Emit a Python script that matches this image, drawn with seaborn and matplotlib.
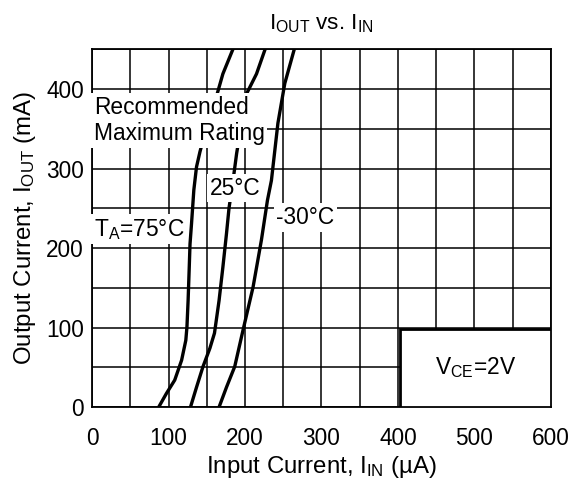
import pandas as pd
import matplotlib
matplotlib.use("Agg")
import matplotlib.pyplot as plt
from matplotlib.patches import Rectangle
import seaborn as sns

# curves (input uA, output mA)
t75_in = [87, 97, 108, 117, 122.5, 124, 125.5, 127, 128, 130, 133, 136.5,
          141, 152, 163, 171, 185]
t75_out = [0, 17, 34, 59, 84, 101, 134, 176, 205, 231, 273, 302,
           321, 360, 392, 419, 452]
t25_in = [128.6, 136.5, 145, 154, 160, 166, 171, 175.7, 179, 185, 189, 196,
          202, 215, 227]
t25_out = [0, 25, 51, 74, 93, 134, 176, 218, 250, 290, 319, 360,
           394, 419, 452]
tm30_in = [166, 175.7, 186.5, 197.4, 210.5, 221.4, 229.3, 234.5, 243, 252, 265]
tm30_out = [0, 25, 51, 97, 151, 210, 260, 285, 357, 407, 452]

x_ticks = [0, 100, 200, 300, 400, 500, 600]
y_ticks = [0, 100, 200, 300, 400]

df = pd.concat([
    pd.DataFrame({"iin": t75_in, "iout": t75_out, "temp": "75"}),
    pd.DataFrame({"iin": t25_in, "iout": t25_out, "temp": "25"}),
    pd.DataFrame({"iin": tm30_in, "iout": tm30_out, "temp": "-30"}),
])

sns.set_style("white")
plt.rcParams["font.family"] = ["Liberation Sans", "DejaVu Sans"]
plt.rcParams["mathtext.default"] = "regular"
for k in ["text.color", "axes.labelcolor", "xtick.color", "ytick.color"]:
    plt.rcParams[k] = "black"

fig = plt.figure(figsize=(5.69, 4.87), dpi=100)
ax = fig.add_axes([0.162, 0.164, 0.806, 0.735])

sns.lineplot(data=df, x="iin", y="iout", hue="temp", units="temp",
             estimator=None, sort=False, palette=["black"] * 3,
             linewidth=2.4, legend=False, ax=ax, zorder=3,
             solid_joinstyle="round", solid_capstyle="round")

ax.set_xlim(0, 600)
ax.set_ylim(0, 450)
ax.set_xticks(x_ticks)
ax.set_yticks(y_ticks)
ax.set_xticks(range(0, 601, 50), minor=True)
ax.set_yticks(range(0, 451, 50), minor=True)
ax.grid(which="both", color="black", linewidth=1.1)
ax.set_axisbelow(True)
ax.tick_params(which="both", length=0)
ax.tick_params(axis="x", pad=14.5, labelsize=16.3)
ax.tick_params(axis="y", pad=6, labelsize=16.3)
for s in ax.spines.values():
    s.set_color("black")
    s.set_linewidth(1.3)

ax.set_xlabel("Input Current, $I_{IN}$ (µA)", fontsize=17.3, labelpad=3)
ax.set_ylabel("Output Current, $I_{OUT}$ (mA)", fontsize=17.3, labelpad=6)
ax.set_title("$I_{OUT}$ vs. $I_{IN}$", fontsize=16.2, pad=14)

white = dict(facecolor="white", edgecolor="none", pad=2)
ax.text(2, 329, "Recommended\nMaximum Rating", fontsize=16.4, ha="left",
        va="bottom", linespacing=1.2, bbox=white, zorder=4)
ax.text(154, 261, "25°C", fontsize=16.4, ha="left", va="bottom",
        bbox=white, zorder=4)
ax.text(241, 224, "-30°C", fontsize=16.4, ha="left", va="bottom",
        bbox=white, zorder=4)
ax.text(2, 208, "$T_A$=75°C", fontsize=16.4, ha="left", va="bottom",
        bbox=white, zorder=4)

ax.add_patch(Rectangle((403, 0), 197, 98, facecolor="white",
                       edgecolor="black", linewidth=2, zorder=4))
ax.text(502, 50, "$V_{CE}$=2V", fontsize=16.4, ha="center", va="center",
        zorder=5)

fig.savefig("out.png", dpi=100)
